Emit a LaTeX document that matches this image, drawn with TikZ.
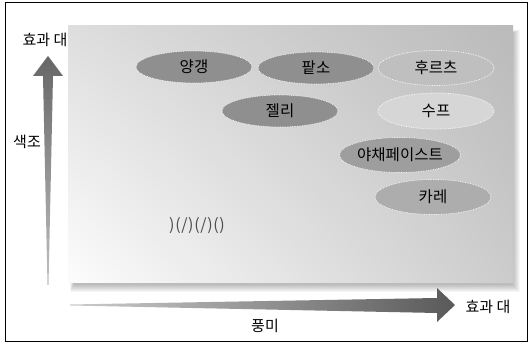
\documentclass[tikz,border=0pt]{standalone}
\usepackage{fontspec}
\setmainfont{Noto Sans CJK KR}
\usetikzlibrary{shapes.geometric,shadings}
\definecolor{dark}{HTML}{8F8F8F}
\definecolor{mid}{HTML}{9E9E9E}
\definecolor{midl}{HTML}{ADADAD}
\definecolor{pale}{HTML}{BFBFBF}
\definecolor{paler}{HTML}{D6D6D6}
\tikzset{
  dish/.style={ellipse, minimum width=116pt, minimum height=32pt, inner sep=0pt,
    draw=white, densely dotted, line width=0.7pt, font=\fontsize{15.5}{16}\selectfont},
  lbl/.style={font=\fontsize{15}{15}\selectfont, inner sep=0pt}
}
\begin{document}
\begin{tikzpicture}[x=1pt,y=-1pt]
\useasboundingbox (0,0) rectangle (531,344);
\fill[white] (0,0) rectangle (531,344);
\draw[line width=1pt] (5.5,3) rectangle (527,342);
% shadow
\foreach \i in {0,...,7}{
  \fill[black,opacity=0.035] (70+\i*0.5,30+\i*0.5) rectangle (520-\i,292-\i);
}
% panel
\shade[upper left=black!13, upper right=black!27, lower right=black!20, lower left=black!1]
  (68,26) rectangle (513,283);
% ellipses
\node[dish,fill=dark] (yg) at (194,67) {양갱};
\node[dish,fill=dark] (ps) at (316,68) {팥소};
\node[dish,fill=pale,minimum height=35pt] (fr) at (436,68) {후르츠};
\node[dish,fill=dark] (jl) at (280,111) {젤리};
\node[dish,fill=paler,minimum height=36pt] (sp) at (436,111) {수프};
\node[dish,fill=mid,minimum height=35pt] (vp) at (400,155) {야채페이스트};
\node[dish,fill=midl,minimum height=35pt] (cr) at (433,197) {카레};
\node[font={\fontsize{16}{16}\selectfont\addfontfeatures{LetterSpace=4}}, text=black!70, inner sep=0pt] (gb) at (197,226) {)(/)(/)()};
% vertical arrow
\shade[top color=black!60, bottom color=black!25]
  (48,56) -- (63,76) -- (53,76) -- (48.5,285) -- (47.5,285) -- (43,76) -- (33,76) -- cycle;
% horizontal arrow
\shade[left color=black!20, right color=black!65]
  (70,304.5) -- (437,298) -- (437,288) -- (455,305) -- (437,322) -- (437,313) -- (70,305.5) -- cycle;
% labels
\node[lbl] (ty) at (45,40) {효과 대};
\node[lbl] (sj) at (27,142) {색조};
\node[lbl] (pm) at (265,326) {풍미};
\node[lbl] (tx) at (488,307) {효과 대};
\end{tikzpicture}
\end{document}
